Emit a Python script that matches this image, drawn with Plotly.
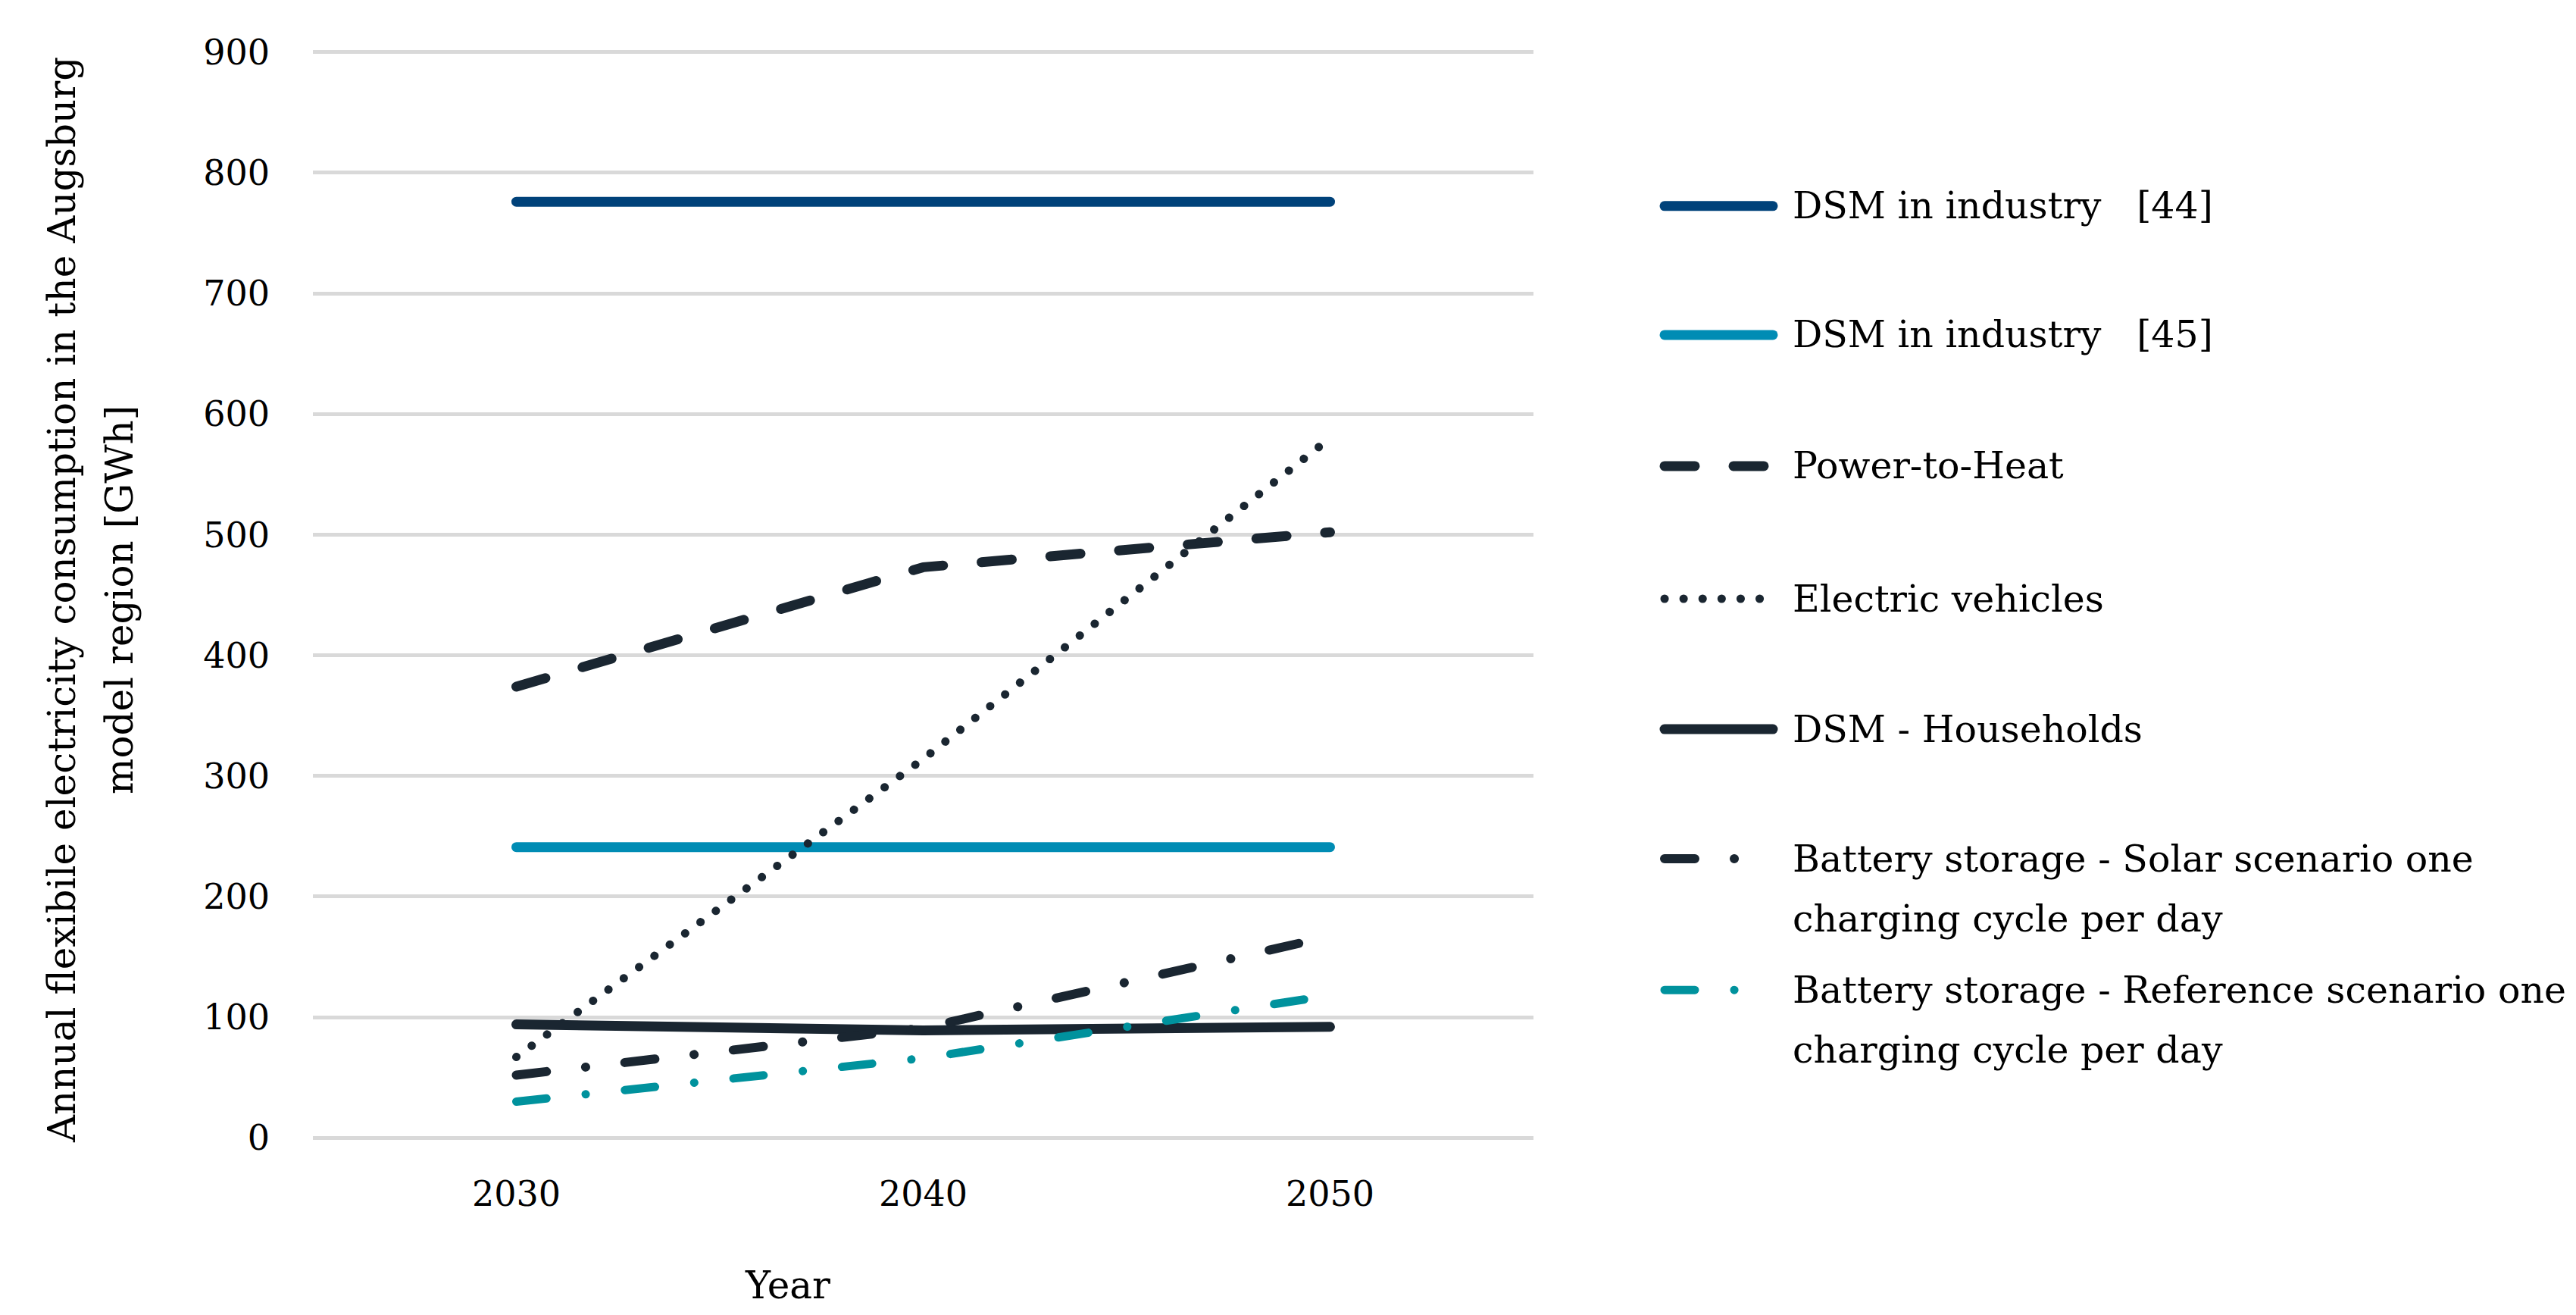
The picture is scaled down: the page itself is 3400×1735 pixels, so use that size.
import plotly.graph_objects as go

# ---------------- data ----------------
years = ["2030", "2040", "2050"]
dsm_industry_44 = [776, 776, 776]
dsm_industry_45 = [241, 241, 241]
power_to_heat = [374, 473, 502]
electric_vehicles = [67, 314, 580]
dsm_households = [94, 89, 92]
battery_solar = [52, 91, 167]
battery_reference = [30, 66, 118]

y_ticks = [0, 100, 200, 300, 400, 500, 600, 700, 800, 900]

series_names = [
    ["DSM in industry   [44]"],
    ["DSM in industry   [45]"],
    ["Power-to-Heat"],
    ["Electric vehicles"],
    ["DSM - Households"],
    ["Battery storage - Solar scenario one", "charging cycle per day"],
    ["Battery storage - Reference scenario one", "charging cycle per day"],
]
series_values = [dsm_industry_44, dsm_industry_45, power_to_heat, electric_vehicles,
                 dsm_households, battery_solar, battery_reference]

# ---------------- styles ----------------
C_DARKBLUE = "#00427a"
C_BLUE = "#008cb4"
C_DARK = "#1a2631"
C_TEAL = "#00929d"
DASH = "40px,51px"
DOT = "0.1px,25px"
DASHDOT = "40px,52px,0.1px,52px"
styles = [
    dict(color=C_DARKBLUE, width=13, dash="solid"),
    dict(color=C_BLUE, width=13, dash="solid"),
    dict(color=C_DARK, width=13, dash=DASH),
    dict(color=C_DARK, width=11, dash=DOT),
    dict(color=C_DARK, width=13, dash="solid"),
    dict(color=C_DARK, width=12, dash=DASHDOT),
    dict(color=C_TEAL, width=11, dash=DASHDOT),
]

FONT = "DejaVu Serif"
W, H = 3400, 1735
# plot area: y=0 at 1493 px, y=900 at 61 px; range padded by 3 units so edge gridlines show
Y0, Y1 = -3, 903
PXU = (1493 - 61) / 900.0
L, R = 405, 1384
T = 61 - (Y1 - 900) * PXU
B = (H - 1493) - (0 - Y0) * PXU
PW, PH = W - L - R, H - T - B


def px_x(px):
    return (px - L) / PW


def px_y(py):
    return (H - B - py) / PH


fig = go.Figure()
for name, vals, st in zip(series_names, series_values, styles):
    fig.add_trace(go.Scatter(
        x=years, y=vals, mode="lines", name=" ".join(name),
        line=dict(color=st["color"], width=st["width"], dash=st["dash"]),
        showlegend=False,
    ))

# ---------------- custom legend ----------------
legend_rows = [264, 434, 607, 782, 954, 1125, 1298]
line_gap = 79
shapes = []
annotations = []
for name, st, row in zip(series_names, styles, legend_rows):
    shapes.append(dict(
        type="line", xref="paper", yref="paper",
        x0=px_x(2189), x1=px_x(2332), y0=px_y(row), y1=px_y(row),
        line=dict(color=st["color"], width=st["width"], dash=st["dash"]),
    ))
    for i, txt in enumerate(name):
        annotations.append(dict(
            text=txt, xref="paper", yref="paper",
            x=px_x(2356), y=px_y(row + i * line_gap),
            xanchor="left", yanchor="middle", showarrow=False,
            font=dict(family=FONT, size=49, color="black"),
        ))

# axis titles
annotations.append(dict(
    text="Annual flexibile electricity consumption in the Augsburg",
    xref="paper", yref="paper", x=px_x(74), y=px_y(784),
    xanchor="center", yanchor="middle", textangle=-90, showarrow=False,
    font=dict(family=FONT, size=50, color="black"),
))
annotations.append(dict(
    text="model region [GWh]",
    xref="paper", yref="paper", x=px_x(150), y=px_y(784),
    xanchor="center", yanchor="middle", textangle=-90, showarrow=False,
    font=dict(family=FONT, size=50, color="black"),
))
annotations.append(dict(
    text="Year", xref="paper", yref="paper", x=px_x(1031), y=px_y(1688),
    xanchor="center", yanchor="middle", showarrow=False,
    font=dict(family=FONT, size=50, color="black"),
))

fig.update_layout(
    width=W, height=H,
    margin=dict(l=L, r=R, t=T, b=B, autoexpand=False),
    paper_bgcolor="white", plot_bgcolor="white",
    showlegend=False,
    shapes=shapes, annotations=annotations,
    font=dict(family=FONT, size=46, color="black"),
    xaxis=dict(
        type="category", range=[-0.5, 2.5], showgrid=False, showline=False,
        zeroline=False, ticks="", ticklabelstandoff=38, automargin=False,
        tickfont=dict(family=FONT, size=46, color="black"),
    ),
    yaxis=dict(
        range=[Y0, Y1], tickvals=y_ticks, showgrid=True, gridcolor="#d9d9d9",
        gridwidth=5, zeroline=False, showline=False, ticks="",
        ticklabelstandoff=56, automargin=False,
        tickfont=dict(family=FONT, size=46, color="black"),
    ),
)

post = """
function fixCaps(){
  document.querySelectorAll('.js-line, .shapelayer path').forEach(function(p){
    p.style.strokeLinecap='round'; p.style.strokeLinejoin='round';
  });
}
fixCaps();
var gd = document.getElementById('{plot_id}');
if (gd && gd.on) { gd.on('plotly_afterplot', fixCaps); }
"""
fig.write_html("out.html", post_script=post, config={"responsive": False})
